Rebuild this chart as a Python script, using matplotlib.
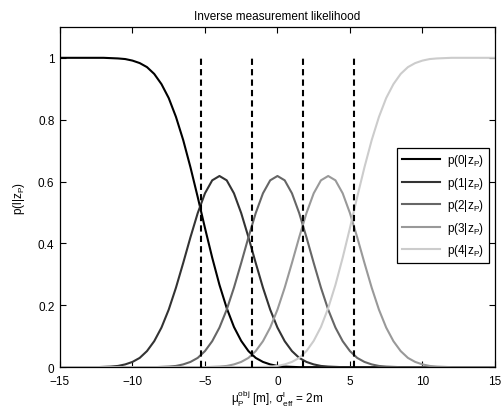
import numpy as np
import matplotlib
matplotlib.use("Agg")
import matplotlib.pyplot as plt

plt.rcParams['font.family'] = ['Liberation Sans', 'DejaVu Sans']
plt.rcParams['mathtext.fontset'] = 'custom'
plt.rcParams['mathtext.rm'] = 'Liberation Sans'
plt.rcParams['mathtext.it'] = 'Liberation Sans'
plt.rcParams['mathtext.bf'] = 'Liberation Sans:bold'

# sample positions (m)
x_vals = np.arange(-15, 15.01, 0.5)

p0 = [1.000, 1.000, 1.000, 1.000, 1.000, 1.000, 1.000,
      0.999, 0.998, 0.996, 0.991, 0.983, 0.970, 0.948, 0.915, 0.870, 0.809,
      0.734, 0.646, 0.550, 0.450, 0.354, 0.266, 0.191, 0.130, 0.085, 0.052,
      0.030, 0.017, 0.009, 0.004, 0.002, 0.001] + [0.0] * 28

p1 = [0.0] * 6 + [0.001, 0.002, 0.004, 0.009, 0.017, 0.030, 0.052, 0.084,
      0.128, 0.186, 0.257, 0.337, 0.420, 0.498, 0.562, 0.604,
      0.618,
      0.604, 0.562, 0.498, 0.420, 0.337, 0.257, 0.186, 0.128,
      0.084, 0.052, 0.030, 0.017, 0.009, 0.004, 0.002, 0.001] + [0.0] * 22

p2 = [0.0] * 14 + [0.001, 0.002, 0.004, 0.009, 0.017, 0.030, 0.052, 0.084,
      0.128, 0.186, 0.257, 0.337, 0.420, 0.498, 0.562, 0.604,
      0.618,
      0.604, 0.562, 0.498, 0.420, 0.337, 0.257, 0.186, 0.128,
      0.084, 0.052, 0.030, 0.017, 0.009, 0.004, 0.002, 0.001] + [0.0] * 14

p3 = [0.0] * 21 + [0.001, 0.002, 0.004, 0.009, 0.017, 0.030, 0.052, 0.084,
      0.128, 0.186, 0.257, 0.337, 0.420, 0.498, 0.562, 0.604,
      0.618,
      0.604, 0.562, 0.498, 0.420, 0.337, 0.257, 0.186, 0.128,
      0.084, 0.052, 0.030, 0.017, 0.009, 0.004, 0.002, 0.001] + [0.0] * 7

p4 = [0.0] * 28 + [0.001, 0.002, 0.004, 0.009, 0.017, 0.030,
      0.052, 0.085, 0.130, 0.191, 0.266, 0.354, 0.450, 0.550, 0.646, 0.734,
      0.809, 0.870, 0.915, 0.948, 0.970, 0.983, 0.991, 0.996, 0.998, 0.999,
      1.000, 1.000, 1.000, 1.000, 1.000, 1.000, 1.000]

series = [p0, p1, p2, p3, p4]
labels = [r'p(0|z$_\mathregular{P}$)', r'p(1|z$_\mathregular{P}$)',
          r'p(2|z$_\mathregular{P}$)', r'p(3|z$_\mathregular{P}$)',
          r'p(4|z$_\mathregular{P}$)']
colors = ['#000000', '#333333', '#666666', '#999999', '#cccccc']

thresholds = [-5.25, -1.75, 1.75, 5.25]

xticks = [-15, -10, -5, 0, 5, 10, 15]
yticks = [0, 0.2, 0.4, 0.6, 0.8, 1]
yticklabels = ['0', '0.2', '0.4', '0.6', '0.8', '1']

fig = plt.figure(figsize=(5.04, 4.10), dpi=100)
ax = fig.add_axes([0.119, 0.102, 0.863, 0.830])

for ys, lab, c in zip(series, labels, colors):
    ax.plot(x_vals, ys, color=c, lw=1.5, label=lab, solid_joinstyle='round')

ax.vlines(thresholds, 0, 1, colors='black', lw=1.5,
          linestyles=[(0, (3, 2))])

ax.set_xlim(-15, 15)
ax.set_ylim(0, 1.1)
ax.set_xticks(xticks)
ax.set_xticklabels([str(t).replace('-', '\u2212') for t in xticks])
ax.set_yticks(yticks)
ax.set_yticklabels(yticklabels)
ax.tick_params(direction='in', top=True, right=True, length=4, width=0.8,
               labelsize=8.5)
ax.tick_params(axis='x', pad=5.5)
ax.tick_params(axis='y', pad=4)
for s in ax.spines.values():
    s.set_linewidth(0.9)

ax.set_title('Inverse measurement likelihood', fontsize=8.5, pad=6)
ax.set_xlabel(r'$\mathregular{\mu_P^{obj}}$ [m], $\mathregular{\sigma_{eff}^{l}}$ = 2m',
              fontsize=8.5, labelpad=1)
ax.set_ylabel(r'p(l|z$_\mathregular{P}$)', fontsize=8.5, labelpad=8)

leg = ax.legend(loc='upper right', bbox_to_anchor=(0.986, 0.645),
                fontsize=8.5, fancybox=False, framealpha=1,
                edgecolor='black', handlelength=3.2, borderpad=0.4,
                labelspacing=0.55, handletextpad=0.6, borderaxespad=0)
leg.get_frame().set_linewidth(0.9)

fig.savefig('out.png', dpi=100)
